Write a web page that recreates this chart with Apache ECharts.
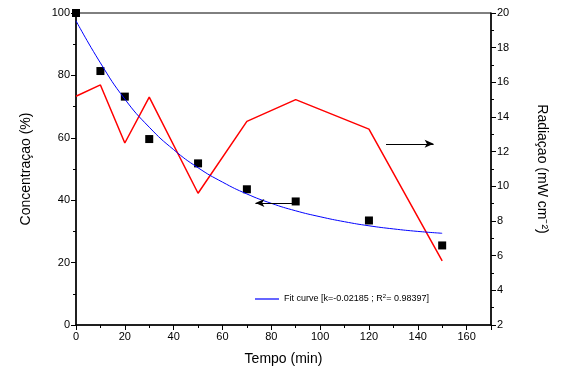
<!DOCTYPE html>
<html><head><meta charset="utf-8">
<script src="https://cdn.jsdelivr.net/npm/echarts@6/dist/echarts.min.js"></script>
<style>html,body{margin:0;padding:0;background:#fff}#c{width:567px;height:377px}</style>
</head><body><div id="c"></div>
<script>
// Concentration data (left axis)
var concTime = [0, 10, 20, 30, 50, 70, 90, 120, 150];
var concValues = [100, 81.4, 73.2, 59.6, 51.8, 43.5, 39.6, 33.5, 25.5];
// Radiation (right axis)
var radTime = [0, 10, 20, 30, 50, 70, 90, 120, 150];
var radValues = [15.2, 15.85, 12.5, 15.15, 9.6, 13.75, 15.0, 13.3, 5.7];
// Fit curve
var fitTime = [0, 10, 20, 30, 40, 50, 60, 70, 80, 90, 100, 110, 120, 130, 140, 150];
var fitValues = [97.5, 84.0, 72.4, 63.4, 56.2, 50.4, 45.8, 42.0, 39.0, 36.6, 34.7, 33.1, 31.8, 30.8, 30.0, 29.4];
// Annotation arrows: [fromX, toX, y]
var leftArrow = [89.5, 73.5, 39.1];
var rightArrow = [127, 146.5, 12.45];
var fitName = 'Fit curve [k=-0.02185 ; R2= 0.98397]';

function zip(a, b) { return a.map(function (v, i) { return [v, b[i]]; }); }
var font = 'Liberation Sans, Arial, sans-serif';
var chart = echarts.init(document.getElementById('c'));
chart.setOption({
  animation: false,
  textStyle: { fontFamily: font },
  grid: { left: 76, right: 76, top: 13, bottom: 52, show: true, borderColor: '#000', borderWidth: 1 },
  legend: {
    data: [fitName], left: 250, top: 288, icon: 'rect',
    itemWidth: 24, itemHeight: 1.2, itemGap: 8,
    formatter: function () { return '{a|Fit curve [k=-0.02185 ; R}{s|2}{a|= 0.98397]}'; },
    textStyle: { rich: { a: { fontSize: 9, color: '#000', fontFamily: font }, s: { fontSize: 6, color: '#000', fontFamily: font, verticalAlign: 'top', padding: [0, 0, 6, 0] } } }
  },
  xAxis: {
    type: 'value', min: 0, max: 170, interval: 20,
    name: 'Tempo (min)', nameLocation: 'middle', nameGap: 27,
    nameTextStyle: { fontSize: 14, color: '#000', fontFamily: font },
    axisLine: { lineStyle: { color: '#000', width: 1.5 } },
    axisTick: { length: 5, lineStyle: { color: '#000' } },
    minorTick: { show: true, splitNumber: 2, length: 3, lineStyle: { color: '#000' } },
    axisLabel: { fontSize: 11, color: '#000', showMaxLabel: false, margin: 6 },
    splitLine: { show: false }
  },
  yAxis: [{
    type: 'value', min: 0, max: 100, interval: 20, position: 'left',
    name: 'Concentraçao (%)', nameLocation: 'middle', nameGap: 43,
    nameTextStyle: { fontSize: 14, color: '#000', fontFamily: font },
    axisLine: { show: true, lineStyle: { color: '#000', width: 1.5 } },
    axisTick: { show: true, length: 5, lineStyle: { color: '#000' } },
    minorTick: { show: true, splitNumber: 2, length: 3, lineStyle: { color: '#000' } },
    axisLabel: { fontSize: 11, color: '#000', margin: 6 },
    splitLine: { show: false }
  }, {
    type: 'value', min: 2, max: 20, interval: 2, position: 'right',
    name: 'Radiaçao (mW cm⁻²)', nameLocation: 'middle', nameGap: 44, nameRotate: -90,
    nameTextStyle: { fontSize: 14, color: '#000', fontFamily: font },
    axisLine: { show: true, lineStyle: { color: '#000', width: 1.5 } },
    axisTick: { show: true, length: 5, lineStyle: { color: '#000' } },
    minorTick: { show: true, splitNumber: 2, length: 3, lineStyle: { color: '#000' } },
    axisLabel: { fontSize: 11, color: '#000', margin: 6 },
    splitLine: { show: false }
  }],
  series: [{
    name: 'Radiacao', type: 'line', yAxisIndex: 1, data: zip(radTime, radValues),
    symbol: 'none', lineStyle: { color: '#ff0000', width: 1.5 },
    markLine: {
      silent: true, symbol: ['none', 'arrow'], symbolSize: [6, 9], label: { show: false },
      lineStyle: { color: '#000', width: 1, type: 'solid' },
      data: [[{ coord: [rightArrow[0], rightArrow[2]] }, { coord: [rightArrow[1], rightArrow[2]] }]]
    }
  }, {
    name: fitName, type: 'line', yAxisIndex: 0, data: zip(fitTime, fitValues),
    smooth: true, symbol: 'none', lineStyle: { color: '#0000ff', width: 1 }, itemStyle: { color: '#0000ff' },
    markLine: {
      silent: true, symbol: ['none', 'arrow'], symbolSize: [6, 9], label: { show: false },
      lineStyle: { color: '#000', width: 1, type: 'solid' },
      data: [[{ coord: [leftArrow[0], leftArrow[2]] }, { coord: [leftArrow[1], leftArrow[2]] }]]
    }
  }, {
    name: 'Conc', type: 'scatter', yAxisIndex: 0, data: zip(concTime, concValues),
    symbol: 'rect', symbolSize: 8, itemStyle: { color: '#000', opacity: 1 }
  }]
});
</script></body></html>
